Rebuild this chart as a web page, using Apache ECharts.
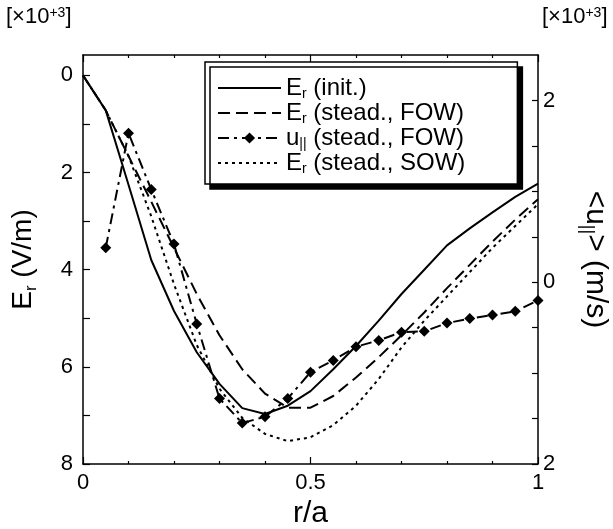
<!DOCTYPE html>
<html><head><meta charset="utf-8">
<script src="https://cdn.jsdelivr.net/npm/echarts@6/dist/echarts.min.js"></script>
<style>html,body{margin:0;padding:0;background:#fff}#c{width:613px;height:529px}</style>
</head><body><div id="c"></div>
<script>
// r/a grid
const rA = [0, 0.05, 0.1, 0.15, 0.2, 0.25, 0.3, 0.35, 0.4, 0.45, 0.5, 0.55, 0.6, 0.65, 0.7, 0.75, 0.8, 0.85, 0.9, 0.95, 1.0];
// Er magnitudes [x10^3 V/m] (left axis, downward)
const erInit = [0, 0.72, 2.25, 3.8, 4.85, 5.7, 6.35, 6.85, 6.97, 6.8, 6.5, 6.05, 5.57, 5.05, 4.5, 4.0, 3.5, 3.15, 2.82, 2.5, 2.23];
const erFow  = [0, 0.72, 1.66, 2.6, 3.55, 4.5, 5.35, 6.05, 6.55, 6.84, 6.84, 6.6, 6.22, 5.8, 5.35, 4.88, 4.38, 3.9, 3.42, 2.97, 2.55];
const erSow  = [0, 0.72, 1.66, 2.9, 4.3, 5.55, 6.45, 7.05, 7.38, 7.53, 7.45, 7.2, 6.8, 6.25, 5.6, 5.05, 4.55, 4.05, 3.55, 3.1, 2.65];
// u_par [x10^3 m/s] (right axis)
const rU = [0.05, 0.1, 0.15, 0.2, 0.25, 0.3, 0.35, 0.4, 0.45, 0.5, 0.55, 0.6, 0.65, 0.7, 0.75, 0.8, 0.85, 0.9, 0.95, 1.0];
const uPar = [0.38, 1.64, 1.02, 0.42, -0.46, -1.28, -1.55, -1.48, -1.28, -0.99, -0.86, -0.71, -0.64, -0.55, -0.54, -0.45, -0.40, -0.36, -0.32, -0.20];
// tick values
const xLabels = [0, 0.5, 1];
const leftLabels = [0, 2, 4, 6, 8];
const leftTicks = [0, 1, 2, 3, 4, 5, 6, 7, 8];
const rightLabels = [-2, 0, 2];
const rightTicks = [-2, -1.5, -1, -0.5, 0, 0.5, 1, 1.5, 2];
const names = ['Er (init.)', 'Er (stead., FOW)', 'u|| (stead., FOW)', 'Er (stead., SOW)'];
const richNames = {
  'Er (init.)': 'E{s|r} (init.)',
  'Er (stead., FOW)': 'E{s|r} (stead., FOW)',
  'u|| (stead., FOW)': 'u{s|||} (stead., FOW)',
  'Er (stead., SOW)': 'E{s|r} (stead., SOW)'
};

const font = '"Liberation Sans", Arial, Helvetica, sans-serif';
const pair = (xs, ys) => xs.map((x, i) => [x, ys[i]]);

const chart = echarts.init(document.getElementById('c'));
const richSub = (fs, sfs, pad) => ({
  n: {fontSize: fs, fontFamily: font, color: '#000'},
  s: {fontSize: sfs, fontFamily: font, color: '#000', verticalAlign: 'top', padding: [pad, 0, 0, 0]}
});
const supRich = {
  n: {fontSize: 22, fontFamily: font, color: '#000', verticalAlign: 'bottom'},
  p: {fontSize: 14, fontFamily: font, color: '#000', verticalAlign: 'top'}
};
const lineBase = {type: 'line', symbol: 'none', silent: true, animation: false};
const axisLineStyle = {color: '#000', width: 1.5};
const tickStyle = {color: '#000', width: 1.2};

chart.setOption({
  animation: false,
  backgroundColor: '#fff',
  grid: {left: 83, right: 75, top: 55, bottom: 65, containLabel: false, outerBoundsMode: 'none'},
  graphic: [
    {type: 'text', left: 6, top: 6, style: {text: '{n|[×10}{p|+3}{n|]}', rich: supRich}},
    {type: 'text', left: 542, top: 6, style: {text: '{n|[×10}{p|+3}{n|]}', rich: supRich}}
  ],
  legend: {
    data: [
      {name: names[0], itemStyle: {opacity: 0}},
      {name: names[1], itemStyle: {opacity: 0}},
      {name: names[2]},
      {name: names[3], itemStyle: {opacity: 0}}
    ],
    left: 205, top: 62,
    orient: 'vertical',
    itemWidth: 63, itemHeight: 14, itemGap: 0,
    padding: [14, 52, 8, 12],
    backgroundColor: '#fff',
    borderColor: '#000', borderWidth: 1.5, borderRadius: 0,
    shadowColor: '#000', shadowOffsetX: 5, shadowOffsetY: 5, shadowBlur: 0,
    formatter: n => richNames[n],
    textStyle: {fontSize: 24, fontFamily: font, color: '#000', rich: richSub(24, 14, 12)}
  },
  xAxis: [
    {type: 'value', min: 0, max: 1, interval: 0.5, position: 'bottom',
     axisLine: {onZero: false, lineStyle: axisLineStyle},
     axisTick: {inside: true, length: 7, lineStyle: tickStyle},
     minorTick: {show: true, splitNumber: 5, length: 3, lineStyle: tickStyle},
     axisLabel: {customValues: xLabels, fontSize: 22, fontFamily: font, color: '#000', margin: 8,
                 formatter: v => String(v)},
     splitLine: {show: false},
     name: 'r/a', nameLocation: 'middle', nameGap: 31,
     nameTextStyle: {fontSize: 30, fontFamily: font, color: '#000'}},
    {type: 'value', min: 0, max: 1, interval: 0.5, position: 'top',
     axisLine: {onZero: false, lineStyle: axisLineStyle},
     axisTick: {inside: true, length: 7, lineStyle: tickStyle},
     minorTick: {show: true, splitNumber: 5, length: 3, lineStyle: tickStyle},
     axisLabel: {show: false}, splitLine: {show: false}}
  ],
  yAxis: [
    {type: 'value', min: -0.42, max: 8, inverse: true, position: 'left',
     axisLine: {show: true, onZero: false, lineStyle: axisLineStyle},
     axisTick: {show: true, inside: true, length: 7, customValues: leftTicks, lineStyle: tickStyle},
     axisLabel: {customValues: leftLabels, fontSize: 22, fontFamily: font, color: '#000', margin: 10},
     splitLine: {show: false},
     name: 'E{s|r} (V/m)', nameLocation: 'middle', nameRotate: 90, nameGap: 43,
     nameTextStyle: {fontSize: 28, fontFamily: font, color: '#000', rich: richSub(28, 17, 16)}},
    {type: 'value', min: -2, max: 2.5, position: 'right',
     axisLine: {show: true, onZero: false, lineStyle: axisLineStyle},
     axisTick: {show: true, inside: true, length: 6, customValues: rightTicks, lineStyle: tickStyle},
     axisLabel: {customValues: rightLabels, fontSize: 22, fontFamily: font, color: '#000', margin: 5,
                 formatter: v => String(Math.abs(v))},
     splitLine: {show: false},
     name: '<u{s|||}> (m/s)', nameLocation: 'middle', nameRotate: -90, nameGap: 40,
     nameTextStyle: {fontSize: 30, fontFamily: font, color: '#000', rich: richSub(30, 18, 17)}}
  ],
  series: [
    Object.assign({}, lineBase, {name: names[0], yAxisIndex: 0, data: pair(rA, erInit),
      lineStyle: {color: '#000', width: 2, type: 'solid'}, itemStyle: {color: '#000'}}),
    Object.assign({}, lineBase, {name: names[1], yAxisIndex: 0, data: pair(rA, erFow),
      lineStyle: {color: '#000', width: 2, type: [12, 6]}, itemStyle: {color: '#000'}}),
    Object.assign({}, lineBase, {name: names[2], yAxisIndex: 1, data: pair(rU, uPar),
      symbol: 'diamond', symbolSize: 11, showSymbol: true,
      lineStyle: {color: '#000', width: 2, type: [11, 5, 3, 5]}, itemStyle: {color: '#000'}}),
    Object.assign({}, lineBase, {name: names[3], yAxisIndex: 0, data: pair(rA, erSow),
      lineStyle: {color: '#000', width: 2, type: [3, 4]}, itemStyle: {color: '#000'}})
  ]
});
</script></body></html>
